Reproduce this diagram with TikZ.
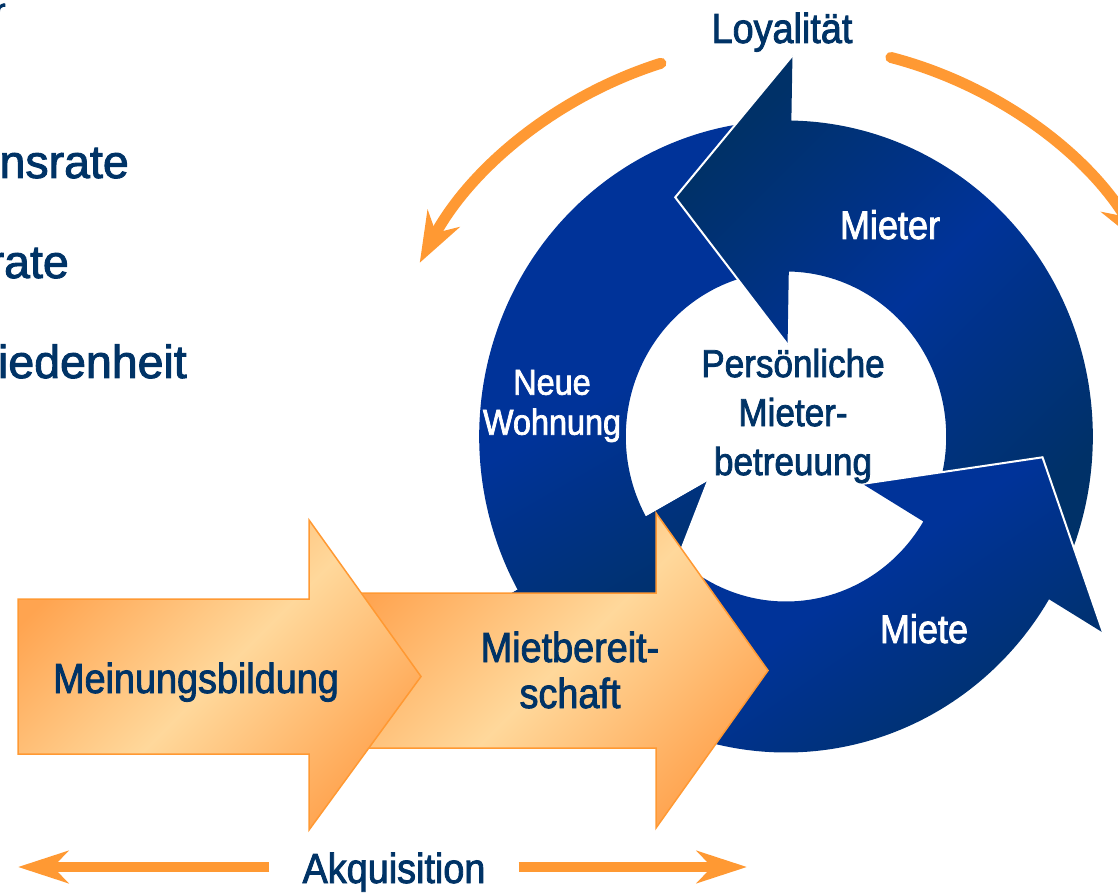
\documentclass[tikz,border=0pt]{standalone}
\usepackage{fontspec}
\setmainfont{Liberation Sans}[FakeStretch=0.9, FakeBold=2]
\newfontfamily\cutfont{Liberation Sans}[FakeBold=2]
\usetikzlibrary{arrows.meta,positioning}

\definecolor{textnavy}{RGB}{0,51,102}
\definecolor{ringdark}{RGB}{0,49,104}
\definecolor{ringblue}{RGB}{0,51,153}
\definecolor{orangeline}{RGB}{255,153,51}
\definecolor{orangedeep}{RGB}{255,164,80}
\definecolor{orangepale}{RGB}{255,216,155}

% ring geometry (pt)
\newcommand\Rout{316}
\newcommand\Rin{165}
\newcommand\Rbarbout{381}
\newcommand\Rbarbin{92}
\newcommand\Rtip{265}
\newcommand\tipoff{26.5}
% #1 tail angle, #2 angle of the head base
\newcommand\cyclearrow[2]{(#1:\Rout) arc[start angle=#1, end angle=#2, radius=\Rout]
  -- (#2:\Rbarbout) -- ({#2+\tipoff}:\Rtip) -- (#2:\Rbarbin) -- (#2:\Rin)
  arc[start angle=#2, end angle=#1, radius=\Rin] -- cycle}
\newcommand\cyclehead[1]{(#1:\Rbarbout) -- ({#1+\tipoff}:\Rtip) -- (#1:\Rbarbin)}

\tikzset{
  tag/.style={text=textnavy, inner sep=0pt, font=\fontsize{42}{46}\selectfont},
  innertag/.style={text=textnavy, inner sep=0pt, align=center, font=\fontsize{39}{49}\selectfont},
  ringtag/.style={text=white, inner sep=0pt, align=center, font=\fontsize{40}{42}\selectfont},
  cuttag/.style={text=textnavy, inner sep=0pt, font=\cutfont\fontsize{46.5}{50}\selectfont},
  stage/.style={draw=orangeline, line width=1.5pt, top color=orangedeep,
    bottom color=orangedeep, middle color=orangepale, shading angle=45},
  tenant/.style={top color=ringdark, bottom color=ringdark, middle color=ringblue, shading angle=45},
  newflat/.style={top color=ringblue, bottom color=ringdark, middle color=ringblue, shading angle=30},
  rent/.style={top color=ringblue, bottom color=ringdark, middle color=ringblue, shading angle=35},
  rim/.style={white, line width=2pt},
  loyalarrow/.style={orangeline, line width=11pt, line cap=round,
    -{Stealth[length=50pt, width=36pt, inset=16pt]}},
  acqarrow/.style={orangeline, line width=10pt,
    -{Stealth[length=50pt, width=32pt, inset=15pt]}}
}

\begin{document}
\begin{tikzpicture}[x=1pt, y=1pt]
\useasboundingbox (0,0) rectangle (1118,892);

% cut off list on the left
\node[cuttag, anchor=base west, font=\cutfont\fontsize{34}{40}\selectfont] (f0) at (-6,870) {r};
\node[cuttag, anchor=base east] (f1) at (129,714) {nsrate};
\node[cuttag, anchor=base east] (f2) at (69,614) {rate};
\node[cuttag, anchor=base east] (f3) at (187,514) {iedenheit};

\coordinate (hub) at (786,455.5);
\coordinate (orbit) at (786,432);

% loyalty
\node[tag, anchor=base] (loyal) at (782,849) {Loyalität};
\draw[loyalarrow] (orbit) ++(107.5:416) arc[start angle=107.5, end angle=151.7, radius=416];
\draw[loyalarrow] (orbit) ++(75.4:416) arc[start angle=75.4, end angle=31, radius=416];

% cycle
\begin{scope}[shift={(hub)}, xscale=0.971]
  \shade[newflat] \cyclearrow{95}{209};
  \shade[tenant] \cyclearrow{-25}{89};
  \draw[rim] \cyclehead{89};
  \shade[rent] \cyclearrow{215}{329};
  \draw[rim] \cyclehead{329};
  % head of Neue Wohnung over the tail of Miete
  \begin{scope}
    \clip \cyclehead{209} -- cycle;
    \shade[newflat] \cyclearrow{95}{209};
  \end{scope}
  \draw[rim] \cyclehead{209};
\end{scope}

\node[ringtag, anchor=base] (tenant) at (890,653) {Mieter};
\node[ringtag, anchor=base] (rent) at (924,249) {Miete};
\node[ringtag, font=\fontsize{36}{40}\selectfont] (flat) at (552,486) {Neue\\Wohnung};
\node[innertag] (care) at (793,476) {Persönliche\\Mieter-\\betreuung};

% acquisition stages
\draw[stage] (340,144) -- (656,144) -- (656,64) -- (768,221.5) -- (656,379) -- (656,299) -- (340,299) -- cycle;
\draw[stage] (18,138) -- (309,138) -- (309,62) -- (421,215.5) -- (309,372) -- (309,293) -- (18,293) -- cycle;
\node[tag, anchor=base] (opinion) at (196,199) {Meinungsbildung};
\node[tag, align=center] (ready) at (570,222) {Mietbereit-\\schaft};

\node[tag, anchor=base, inner xsep=33pt] (acq) at (394,9) {Akquisition};
\coordinate (acqL) at (18,25);
\coordinate (acqR) at (747,25);
\draw[acqarrow] (acq.west |- acqL) -- (acqL);
\draw[acqarrow] (acq.east |- acqR) -- (acqR);

\end{tikzpicture}
\end{document}
